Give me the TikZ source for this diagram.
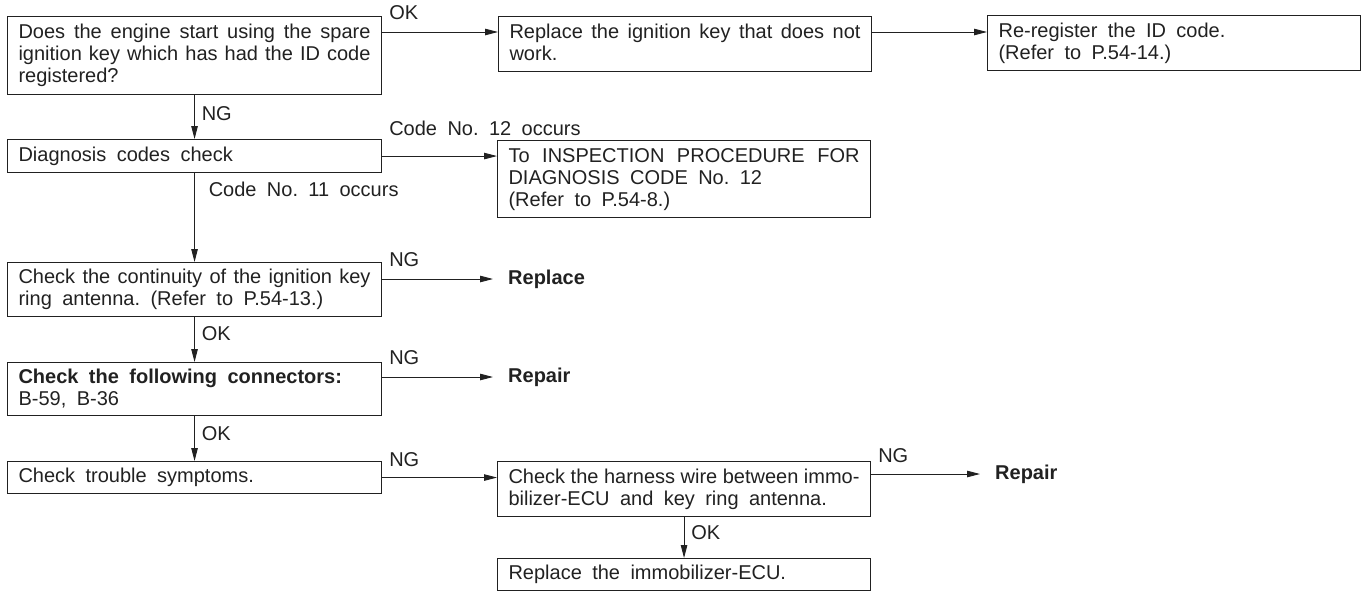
\documentclass[tikz,border=0pt]{standalone}
\usepackage{fontspec}
\setmainfont{Liberation Sans}
\usetikzlibrary{arrows.meta,calc}
\newcommand{\ms}{\vrule height 15pt depth 5pt width 0pt}
\newcommand{\jl}[1]{\hbox to \hsize{#1}}
\newcommand{\wsp}{\frenchspacing\spaceskip=0.52em plus 0.3em minus 0.25em\relax\xspaceskip=\spaceskip}
\newcommand{\myfont}{\fontsize{20pt}{22pt}\selectfont\wsp}
\newcommand{\mybfont}{\fontsize{20pt}{22pt}\selectfont\bfseries}
\definecolor{ink}{gray}{0.13}
\tikzset{
  every node/.style={font=\myfont, text=ink},
  box/.style={draw=ink, line width=1.1pt, anchor=north west, text width=352pt, inner xsep=11pt, inner ysep=0pt, align=left, execute at begin node={\wsp}},
  rbox/.style={box, text width=351pt},
  lbl/.style={inner sep=0pt, anchor=west},
  goal/.style={inner xsep=15pt, inner ysep=0pt, anchor=west, font=\mybfont},
  arr/.style={draw=ink, line width=0.9pt, -{Triangle[length=13pt,width=6.5pt]}}
}
\begin{document}
\begin{tikzpicture}[x=1pt,y=-1pt]
\useasboundingbox (0,0) rectangle (1363,592);

% left column
\node[box, minimum height=78pt] (b1) at (7,16) {\ms\jl{Does the engine start using the spare}\\\ms\jl{ignition key which has had the ID code}\\\ms registered?};
\node[box, minimum height=33pt] (b4) at (7,139) {\ms Diagnosis codes check};
\node[box, minimum height=54pt] (b6) at (7,262) {\ms\jl{Check the continuity of the ignition key}\\\ms ring antenna. (Refer to P.54-13.)};
\node[box, minimum height=53pt] (b7) at (7,362) {\ms\textbf{Check the following connectors:}\\\ms B-59, B-36};
\node[box, minimum height=32pt] (b8) at (7,461) {\ms Check trouble symptoms.};

% right columns
\node[rbox, minimum height=55pt] (b2) at (498,16) {\ms\jl{Replace the ignition key that does not}\\\ms work.};
\node[rbox, minimum height=55pt] (b3) at (987,15) {\ms Re-register the ID code.\\\ms (Refer to P.54-14.)};
\node[rbox, minimum height=77pt] (b5) at (497,140) {\ms\jl{To INSPECTION PROCEDURE FOR}\\\ms DIAGNOSIS CODE No. 12\\\ms (Refer to P.54-8.)};
\node[rbox, minimum height=55pt] (b9) at (497,461) {\ms\jl{Check the harness wire between immo-}\\\ms bilizer-ECU and key ring antenna.};
\node[rbox, minimum height=32pt] (b10) at (497,558) {\ms Replace the immobilizer-ECU.};

% goals
\node[goal] (rep1) at (493,279) {Replace};
\node[goal] (rep2) at (493,377) {Repair};
\node[goal] (rep3) at (980,474) {Repair};

% coordinates for arrow levels
\coordinate (a1) at ([yshift=-16pt]b1.north east);
\coordinate (a2) at ([yshift=-16pt]b2.north east);

% connectors
\draw[arr] (a1) -- (a1 -| b2.west);
\draw[arr] (a2) -- (a2 -| b3.west);
\draw[arr] (b1.south) -- (b4.north);
\draw[arr] (b4.east) -- (b4.east -| b5.west);
\draw[arr] (b4.south) -- (b6.north);
\draw[arr] (b6.east |- rep1.west) -- (rep1.west);
\draw[arr] (b6.south) -- (b7.north);
\draw[arr] (b7.east |- rep2.west) -- (rep2.west);
\draw[arr] (b7.south) -- (b8.north);
\draw[arr] (b8.east) -- (b8.east -| b9.west);
\draw[arr] (b9.east |- rep3.west) -- (rep3.west);
\draw[arr] (b9.south) -- (b10.north);

% labels
\node[lbl] (l1) at ([xshift=7pt,yshift=19pt]a1) {OK};
\node[lbl] (l2) at ([xshift=7pt,yshift=-19pt]b1.south) {NG};
\node[lbl] (l3) at ([xshift=7pt,yshift=28pt]b4.east) {Code No. 12 occurs};
\node[lbl] (l4) at ([xshift=14pt,yshift=-16pt]b4.south) {Code No. 11 occurs};
\node[lbl] (l5) at ([xshift=7pt,yshift=19pt]b6.east |- rep1.west) {NG};
\node[lbl] (l6) at ([xshift=7pt,yshift=-17pt]b6.south) {OK};
\node[lbl] (l7) at ([xshift=7pt,yshift=19pt]b7.east |- rep2.west) {NG};
\node[lbl] (l8) at ([xshift=7pt,yshift=-18pt]b7.south) {OK};
\node[lbl] (l9) at ([xshift=7pt,yshift=18pt]b8.east) {NG};
\node[lbl] (l10) at ([xshift=7pt,yshift=18pt]b9.east |- rep3.west) {NG};
\node[lbl] (l11) at ([xshift=7pt,yshift=-16pt]b9.south) {OK};
\end{tikzpicture}
\end{document}
